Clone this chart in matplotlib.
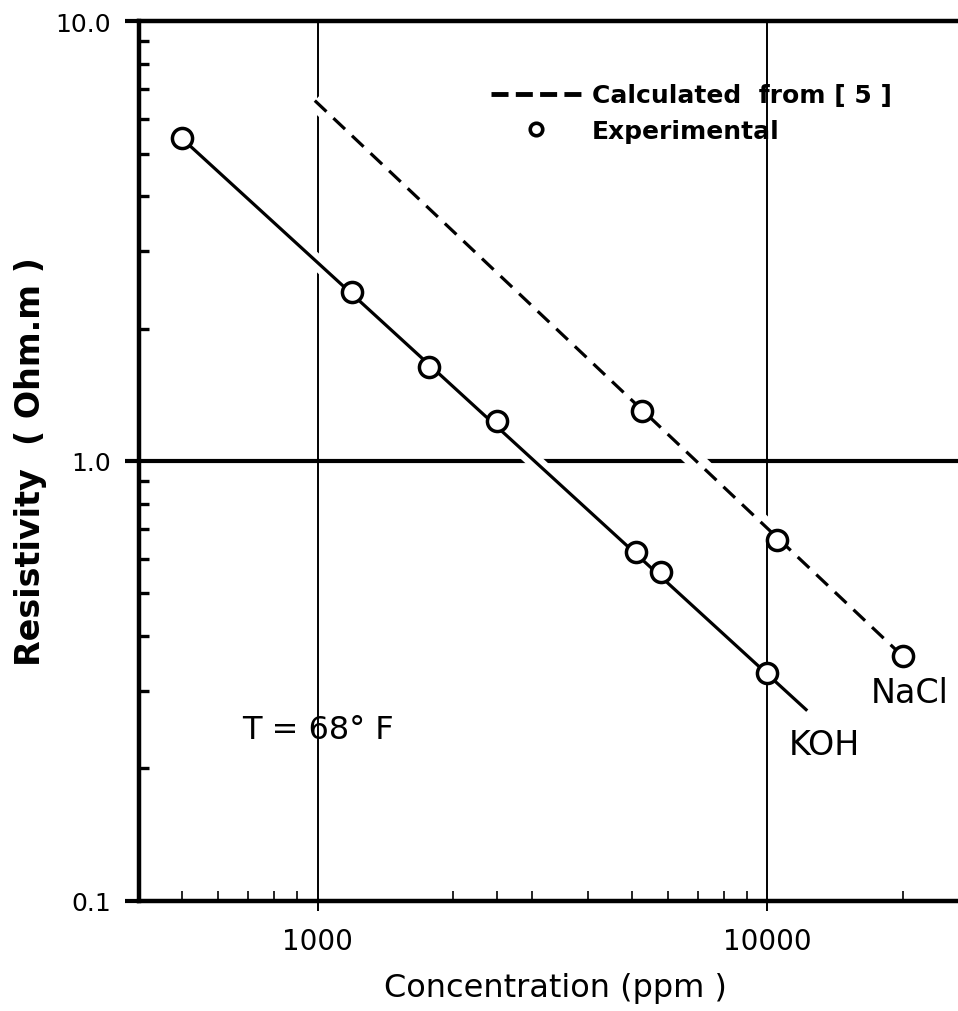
"""Resistivity vs. concentration for KOH and NaCl solutions (log-log)."""

import matplotlib
matplotlib.use("Agg")
import matplotlib.pyplot as plt
from matplotlib.lines import Line2D
from matplotlib.ticker import FixedLocator, NullFormatter

# experimental points
koh_conc = [500, 1190, 1770, 2500, 5100, 5800, 10000]
koh_res = [5.42, 2.42, 1.64, 1.23, 0.62, 0.56, 0.33]
nacl_conc = [5260, 10500, 20000]
nacl_res = [1.30, 0.66, 0.36]

# fitted KOH line and NaCl line calculated from [5]
koh_fit_conc = [500, 12200]
koh_fit_res = [5.40, 0.272]
nacl_calc_conc = [985, 20000]
nacl_calc_res = [6.60, 0.36]

x_major = [1000, 10000]
x_major_labels = ["1000", "10000"]
x_minor = [500, 600, 700, 800, 900, 2000, 2500, 3000, 4000, 5000, 6000,
           7000, 8000, 9000, 20000]
y_major = [0.1, 1.0, 10.0]
y_major_labels = ["0.1", "1.0", "10.0"]
y_minor = [m * d for d in (0.1, 1.0) for m in range(2, 10)]

FONT = "DejaVu Sans"
plt.rcParams["font.family"] = FONT

fig = plt.figure(figsize=(9.58, 10.12), dpi=100)
ax = fig.add_axes([0.145, 0.109, 0.87, 0.869])
ax.set_xscale("log")
ax.set_yscale("log")
ax.set_xlim(400, 28600)
ax.set_ylim(0.1, 10.0)

# drafting-style grid: thin verticals, heavy line at 1.0
for xv in x_major:
    ax.axvline(xv, color="black", lw=1.4, zorder=1)
ax.axhline(1.0, color="black", lw=3.0, zorder=1)

# white underlay so grid lines break where the curves cross
ax.plot(koh_fit_conc, koh_fit_res, color="white", lw=11, solid_capstyle="butt", zorder=1.5)
ax.plot(nacl_calc_conc, nacl_calc_res, color="white", lw=13, solid_capstyle="butt", zorder=1.5)

ax.plot(koh_fit_conc, koh_fit_res, color="black", lw=2.3, zorder=2)
ax.plot(nacl_calc_conc, nacl_calc_res, color="black", lw=2.3, dashes=(5, 3), zorder=2)

mk = dict(linestyle="none", marker="o", ms=14.5, mfc="white", mec="black", mew=2.5, zorder=3)
ax.plot(koh_conc, koh_res, **mk)
ax.plot(nacl_conc, nacl_res, **mk)

for s in ("left", "bottom", "top"):
    ax.spines[s].set_linewidth(3.2)
ax.spines["right"].set_visible(False)

ax.xaxis.set_major_locator(FixedLocator(x_major))
ax.set_xticklabels(x_major_labels)
ax.xaxis.set_minor_locator(FixedLocator(x_minor))
ax.xaxis.set_minor_formatter(NullFormatter())
ax.yaxis.set_major_locator(FixedLocator(y_major))
ax.set_yticklabels(y_major_labels)
ax.yaxis.set_minor_locator(FixedLocator(y_minor))
ax.yaxis.set_minor_formatter(NullFormatter())

ax.tick_params(axis="x", which="major", direction="out", length=7, width=1.4,
               labelsize=20, pad=12)
ax.tick_params(axis="x", which="minor", direction="in", length=7, width=1.2)
ax.tick_params(axis="y", which="major", direction="out", length=10, width=3,
               labelsize=18, pad=10)
ax.tick_params(axis="y", which="minor", direction="in", length=7, width=2.4)
ax.tick_params(top=False, right=False, which="both")

ax.set_xlabel("Concentration (ppm )", fontsize=23, labelpad=12)
ax.set_ylabel("Resistivity  ( Ohm.m )", fontsize=24, fontweight="bold", labelpad=6)

ax.text(1000, 0.245, "T = 68° F", fontsize=23, ha="center", va="center")
ax.text(13400, 0.226, "KOH", fontsize=24, ha="center", va="center")
ax.text(20700, 0.298, "NaCl", fontsize=24, ha="center", va="center")

handles = [
    Line2D([], [], color="black", lw=3.5, dashes=(3.5, 1.5)),
    Line2D([], [], linestyle="none", marker="o", ms=9, mfc="white", mec="black", mew=2.6),
]
ax.legend(handles, ["Calculated  from [ 5 ]", "Experimental"], loc="upper left",
          bbox_to_anchor=(0.395, 0.955), frameon=False, handlelength=3.6,
          handletextpad=0.45, labelspacing=0.45,
          prop={"family": FONT, "weight": "bold", "size": 18})

fig.savefig("out.png", dpi=100)
